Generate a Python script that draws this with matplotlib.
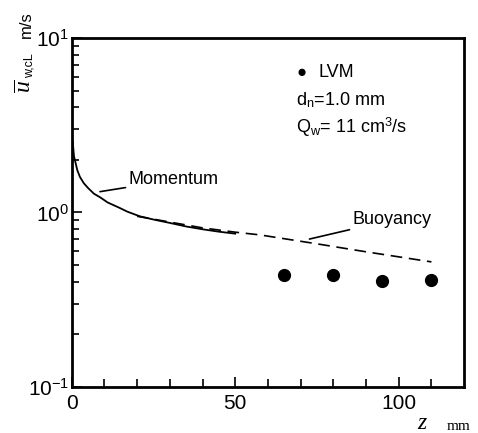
import matplotlib
matplotlib.use("Agg")
import matplotlib.pyplot as plt
from matplotlib.ticker import FixedLocator, LogLocator, NullFormatter

plt.rcParams['font.family'] = ['Liberation Sans', 'DejaVu Sans']
plt.rcParams['mathtext.fontset'] = 'custom'
plt.rcParams['mathtext.rm'] = 'Liberation Sans'
plt.rcParams['mathtext.it'] = 'Liberation Serif:italic'

# 運動量支配の解（実線）
momentum_z = [0.3, 0.7, 1.7, 2.5, 3.7, 5.0, 6.8, 8.7, 11, 14.7, 17, 20.8, 25, 30, 35, 40, 45, 50]
momentum_u = [2.55, 2.1, 1.75, 1.6, 1.47, 1.38, 1.28, 1.22, 1.14, 1.06, 1.01, 0.95, 0.91, 0.87, 0.83, 0.80, 0.775, 0.755]

# 浮力支配の解（破線）
buoyancy_z = [20, 30, 40, 50, 57.5, 75, 90, 110]
buoyancy_u = [0.95, 0.88, 0.815, 0.77, 0.743, 0.66, 0.594, 0.52]

# LVM 測定値
lvm_z = [65, 80, 95, 110]
lvm_u = [0.435, 0.435, 0.404, 0.41]

fig = plt.figure(figsize=(4.78, 4.33), dpi=100)
ax = fig.add_axes([0.150, 0.107, 0.821, 0.805])

ax.plot(momentum_z, momentum_u, color='black', lw=1.3)
ax.plot(buoyancy_z, buoyancy_u, color='black', lw=1.2, ls=(0, (7, 4)))
ax.plot(lvm_z, lvm_u, 'o', color='black', ms=8.5)

ax.set_yscale('log')
ax.set_xlim(0, 120)
ax.set_ylim(0.1, 10)

ax.xaxis.set_major_locator(FixedLocator([0, 50, 100]))
ax.xaxis.set_minor_locator(FixedLocator(range(10, 120, 10)))
ax.yaxis.set_major_locator(LogLocator(base=10))
ax.yaxis.set_minor_locator(LogLocator(base=10, subs=range(2, 10)))
ax.yaxis.set_minor_formatter(NullFormatter())

ax.tick_params(which='both', direction='in', top=False, right=False, labelsize=15, width=1.2)
ax.tick_params(which='major', length=7)
ax.tick_params(axis='y', which='major', pad=2)
ax.tick_params(axis='x', which='major', pad=5)
ax.tick_params(which='minor', length=5)
ax.tick_params(axis='x', which='minor', length=6)
for s in ax.spines.values():
    s.set_linewidth(2.0)

# 注釈
ax.annotate('Momentum', xy=(8.65, 1.315), xytext=(17.3, 1.535),
            fontsize=13, va='center', ha='left',
            arrowprops=dict(arrowstyle='-', color='black', lw=1.2, shrinkA=0, shrinkB=0))
ax.annotate('Buoyancy', xy=(72.7, 0.703), xytext=(85.8, 0.906),
            fontsize=13, va='center', ha='left',
            arrowprops=dict(arrowstyle='-', color='black', lw=1.2, shrinkA=0, shrinkB=0))

# 凡例と条件
fig.text(301.7 / 478, 1 - 72.7 / 433, '\u25cf', fontsize=12, ha='center', va='center')
fig.text(318 / 478, 1 - 72.7 / 433, 'LVM', fontsize=13, ha='left', va='center')
fig.text(296 / 478, 1 - 100 / 433, r'd$_\mathregular{n}$=1.0 mm', fontsize=13, ha='left', va='center')
fig.text(296 / 478, 1 - 127 / 433, r'Q$_\mathregular{w}$= 11 cm$^\mathregular{3}$/s', fontsize=13, ha='left', va='center')

# 軸ラベル
fig.text(25 / 478, 1 - 86 / 433, r'$\overline{u}$', fontsize=17, rotation=90, ha='center', va='center')
fig.text(30 / 478, 1 - 66 / 433, 'w,cL', fontsize=9, rotation=90, ha='center', va='center')
fig.text(26 / 478, 1 - 25 / 433, 'm/s', fontsize=12, rotation=90, ha='center', va='center')
fig.text(423 / 478, 1 - 423 / 433, r'$z$', fontsize=17, ha='center', va='center')
fig.text(447 / 478, 1 - 426 / 433, 'mm', fontsize=11, ha='left', va='center', family='Liberation Serif')

fig.savefig('out.png', dpi=100)
